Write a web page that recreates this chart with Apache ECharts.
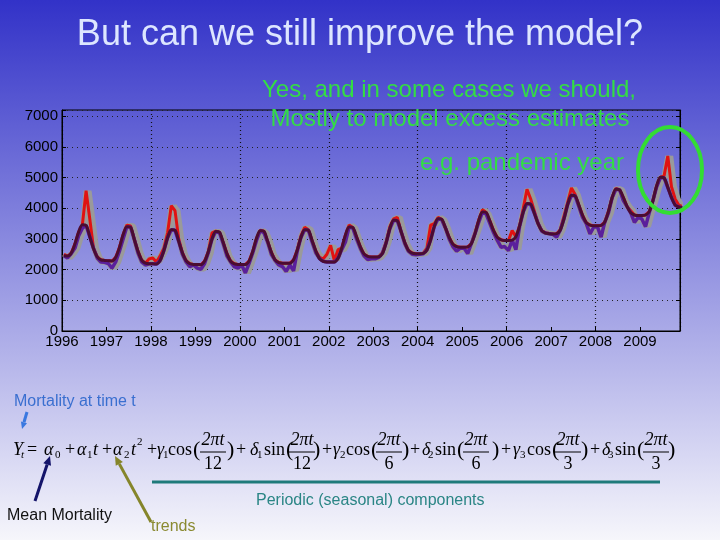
<!DOCTYPE html>
<html>
<head>
<meta charset="utf-8">
<script src="https://cdn.jsdelivr.net/npm/echarts@6/dist/echarts.min.js"></script>
<style>html,body{margin:0;padding:0;}#c{width:720px;height:540px;}</style>
</head>
<body>
<div id="c"></div>
<script>
// ---- Data (monthly, 1996-2009) ----
const years = [1996,1997,1998,1999,2000,2001,2002,2003,2004,2005,2006,2007,2008,2009];
const yTicks = [0,1000,2000,3000,4000,5000,6000,7000];
const fitted = [
  2450,2440,2540,2840,3230,3460,3440,3070,2690,2420,2320,2300,
  2290,2280,2400,2720,3140,3400,3380,2990,2600,2310,2210,2190,
  2190,2180,2300,2620,3040,3300,3280,2920,2550,2290,2190,2170,
  2170,2160,2280,2590,3000,3240,3220,2890,2530,2280,2190,2170,
  2170,2170,2280,2600,3020,3270,3250,2920,2570,2320,2230,2210,
  2210,2210,2320,2640,3050,3300,3280,2950,2610,2360,2270,2250,
  2250,2250,2370,2700,3130,3390,3370,3070,2750,2510,2430,2410,
  2410,2420,2530,2880,3340,3610,3590,3250,2890,2630,2540,2520,
  2520,2530,2640,2970,3410,3660,3640,3360,3050,2830,2750,2730,
  2730,2740,2850,3180,3620,3880,3860,3580,3270,3050,2970,2950,
  2950,2960,3070,3420,3880,4150,4130,3830,3500,3270,3190,3170,
  3160,3170,3290,3660,4130,4420,4400,4100,3770,3530,3450,3430,
  3430,3440,3550,3900,4350,4620,4600,4350,4060,3850,3780,3760,
  3760,3780,3890,4250,4730,5010,4990,4680,4350,4100,4040,4010
];
const observed = [
  2500,2380,2520,2700,3100,3350,4570,3650,2700,2380,2250,2240,
  2200,2050,2250,2600,3000,3450,3420,3000,2550,2250,2150,2350,
  2380,2250,2450,2700,3200,4080,3920,3000,2500,2250,2100,2150,
  2050,2010,2200,2550,3200,3250,3200,2850,2450,2250,2100,2050,
  2150,1890,2200,2550,2950,3280,3200,2900,2500,2300,2150,2100,
  1940,2150,1960,2600,3100,3380,3300,2900,2550,2400,2350,2500,
  2790,2300,2650,2650,2900,3450,3350,3000,2700,2450,2330,2350,
  2350,2400,2550,2900,3400,3650,3700,3250,2850,2600,2500,2480,
  2500,2520,2700,3450,3500,3700,3620,3350,3000,2750,2600,2700,
  2700,2520,2850,3200,3550,3950,3800,3500,3200,2950,2730,2750,
  2620,3270,2650,3400,4000,4620,4300,3900,3500,3250,3200,3180,
  3150,3060,3300,3750,4200,4660,4450,4050,3700,3500,3165,3380,
  3400,3060,3550,3850,4350,4650,4600,4245,4050,3920,3540,3700,
  3650,3400,3850,4250,4700,5000,5050,5700,4700,4300,4100,4050
];

// ---- Build series data ----
const t = [];
years.forEach(function (y) { for (let m = 0; m < 12; m++) t.push(y + (m + 0.5) / 12); });
const fitData = t.map(function (x, i) { return [x, fitted[i]]; });
const obsData = t.map(function (x, i) { return [x, observed[i]]; });
const aboveData = t.map(function (x, i) { return [x, Math.max(observed[i], fitted[i])]; });
const belowData = t.map(function (x, i) { return [x, Math.min(observed[i], fitted[i])]; });

const chart = echarts.init(document.getElementById('c'), null, {renderer: 'canvas', width: 720, height: 540});

const SANS = "'Liberation Sans', Arial, sans-serif";
const SERIF = "'Liberation Serif', 'Times New Roman', serif";

// ---- annotations ----
const g = [];
function txt(x, y, s, font, fill, align, z) {
  g.push({type: 'text', x: x, y: y, z: z || 100, style: {text: s, font: font, fill: fill, textAlign: align || 'left', textVerticalAlign: 'middle'}});
}
function arrow(x1, y1, x2, y2, color, w, head) {
  const dx = x2 - x1, dy = y2 - y1, L = Math.sqrt(dx * dx + dy * dy);
  const ux = dx / L, uy = dy / L, px = -uy, py = ux;
  const bx = x2 - ux * head, by = y2 - uy * head;
  g.push({type: 'line', z: 100, shape: {x1: x1, y1: y1, x2: bx, y2: by}, style: {stroke: color, lineWidth: w}});
  g.push({type: 'polygon', z: 100, shape: {points: [[x2, y2], [bx + px * head * 0.45, by + py * head * 0.45], [bx - px * head * 0.45, by - py * head * 0.45]]}, style: {fill: color}});
}

// title
txt(360, 35, 'But can we still improve the model?', '36px ' + SANS, '#dde6ff', 'center');
// green notes
const GREEN = '#33dd44';
txt(449, 90, 'Yes, and in some cases we should,', '24px ' + SANS, GREEN, 'center');
txt(450, 119, 'Mostly to model excess estimates', '24px ' + SANS, GREEN, 'center');
txt(522, 163, 'e.g. pandemic year', '24px ' + SANS, GREEN, 'center');
g.push({type: 'ellipse', z: 100, shape: {cx: 670, cy: 170, rx: 32, ry: 43}, style: {stroke: '#33dd33', fill: 'none', lineWidth: 4}});

// bottom annotations
txt(14, 402, 'Mortality at time t', '16px ' + SANS, '#3a6fd0');
arrow(27, 412, 22, 429, '#3a78e0', 3, 7);
txt(7, 516, 'Mean Mortality', '16px ' + SANS, '#111111');
arrow(35, 501, 50, 456, '#14146a', 3, 9);
txt(151, 527, 'trends', '16px ' + SANS, '#8a8a30');
arrow(151, 522, 115, 456, '#85852a', 3, 9);
g.push({type: 'line', z: 100, shape: {x1: 152, y1: 482, x2: 660, y2: 482}, style: {stroke: '#1e7a7a', lineWidth: 3}});
txt(256, 501, 'Periodic (seasonal) components', '16px ' + SANS, '#2a8585');

// equation
const EQY = 450;
const eq = [
  ['Y',13,'i'],['t',21,'si'],['=',27,'r'],['α',44,'i'],['0',55,'s'],['+',65,'r'],
  ['α',77,'i'],['1',87,'s'],['t',93,'i'],['+',102,'r'],['α',113,'i'],['2',124,'s'],['t',131,'i'],['2',137,'p'],['+',147,'r'],
  ['γ',157,'i'],['1',163,'s'],['cos',168,'r'],['(',193,'b'],['F12',213],[')',227,'b'],['+',236,'r'],
  ['δ',250,'i'],['1',257,'s'],['sin',264,'r'],['(',286,'b'],['F12',302],[')',313,'b'],['+',322,'r'],
  ['γ',333,'i'],['2',340,'s'],['cos',346,'r'],['(',371,'b'],['F6',389],[')',402,'b'],['+',410,'r'],
  ['δ',422,'i'],['2',428,'s'],['sin',435,'r'],['(',457,'b'],['F6',476],[')',492,'b'],['+',501,'r'],
  ['γ',513,'i'],['3',520,'s'],['cos',527,'r'],['(',552,'b'],['F3',568],[')',581,'b'],['+',590,'r'],
  ['δ',602,'i'],['3',608,'s'],['sin',615,'r'],['(',637,'b'],['F3',656],[')',668,'b']
];
eq.forEach(function (p) {
  const s = p[0], x = p[1], k = p[2];
  if (s.charAt(0) === 'F') {
    txt(x, 440, '2πt', 'italic 18px ' + SERIF, '#000', 'center');
    txt(x, 464, s.slice(1), '18px ' + SERIF, '#000', 'center');
    g.push({type: 'line', z: 100, shape: {x1: x - 13, y1: 452, x2: x + 13, y2: 452}, style: {stroke: '#000', lineWidth: 1}});
  } else if (k === 'i') txt(x, EQY, s, 'italic 18px ' + SERIF, '#000');
  else if (k === 'r') txt(x, EQY, s, '18px ' + SERIF, '#000');
  else if (k === 'b') txt(x, EQY, s, '22px ' + SERIF, '#000');
  else if (k === 's') txt(x, EQY + 5, s, '11px ' + SERIF, '#000');
  else if (k === 'si') txt(x, EQY + 5, s, 'italic 11px ' + SERIF, '#000');
  else if (k === 'p') txt(x, EQY - 8, s, '11px ' + SERIF, '#000');
});

const option = {
  animation: false,
  backgroundColor: {type: 'linear', x: 0, y: 0, x2: 0, y2: 1,
    colorStops: [{offset: 0, color: '#3232c8'}, {offset: 1, color: '#f6f6fb'}]},
  grid: {left: 62, right: 40, top: 110, bottom: 209, show: true, borderColor: '#000', borderWidth: 1, backgroundColor: 'transparent'},
  xAxis: [{
    type: 'value', min: years[0], max: 2009.9, interval: 1,
    axisLine: {show: true, lineStyle: {color: '#000'}},
    axisTick: {show: true, inside: true, length: 4, lineStyle: {color: '#000'}},
    axisLabel: {color: '#000', fontSize: 15, fontFamily: SANS, margin: 3,
      formatter: function (v) { return Number.isInteger(v) ? String(v) : ''; }},
    splitLine: {show: false}
  }, {
    type: 'value', min: years[0], max: 2009.9, interval: 2, position: 'top',
    axisLine: {show: false}, axisTick: {show: false}, axisLabel: {show: false},
    splitLine: {show: true, lineStyle: {color: '#111', type: [1, 3], width: 1.2}}
  }],
  yAxis: [{
    type: 'value', min: yTicks[0], max: 7200, interval: 1000,
    axisLine: {show: true, lineStyle: {color: '#000'}},
    axisTick: {show: true, inside: true, length: 4, lineStyle: {color: '#000'}},
    axisLabel: {color: '#000', fontSize: 15, fontFamily: SANS, margin: 4,
      formatter: function (v) { return yTicks.indexOf(v) >= 0 ? String(v) : ''; }},
    splitLine: {show: true, lineStyle: {color: '#222', type: [1, 4], width: 1.2}}
  }, {
    type: 'value', min: yTicks[0], max: 7200, interval: 1000, position: 'right',
    axisLine: {show: true, lineStyle: {color: '#000'}},
    axisTick: {show: true, inside: true, length: 4, lineStyle: {color: '#000'}},
    axisLabel: {show: false}, splitLine: {show: false}
  }],
  series: [
    {type: 'line', data: obsData, showSymbol: false, symbol: 'none', z: 2,
      lineStyle: {color: '#9a9a9a', width: 5, shadowColor: '#9a9a9a', shadowOffsetX: 3, shadowBlur: 0}},
    {type: 'line', data: aboveData, showSymbol: false, symbol: 'none', z: 3,
      lineStyle: {color: '#e01212', width: 3}},
    {type: 'line', data: belowData, showSymbol: false, symbol: 'none', z: 4,
      lineStyle: {color: '#5a1f9c', width: 3.5}},
    {type: 'line', data: fitData, showSymbol: false, symbol: 'none', z: 5, smooth: 0.3,
      lineStyle: {color: '#4a0c32', width: 3}}
  ],
  graphic: g
};
chart.setOption(option);
</script>
</body>
</html>
